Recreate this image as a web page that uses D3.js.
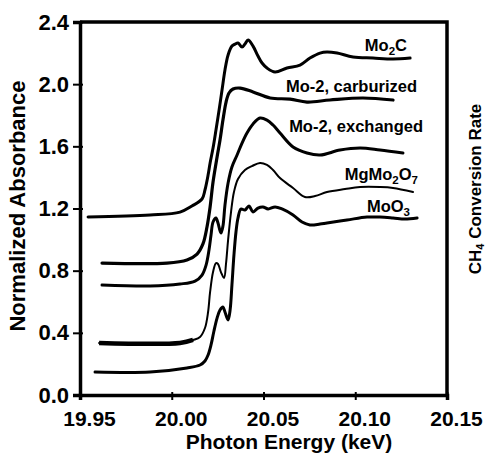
<!DOCTYPE html>
<html>
<head>
<meta charset="utf-8">
<script src="https://cdn.jsdelivr.net/npm/d3@7"></script>
<style>
  body { margin: 0; background: #fff; }
  svg { display: block; font-family: "Liberation Sans", Arial, sans-serif; font-weight: bold; }
</style>
</head>
<body>
<div id="chart"></div>
<script>
// axis ticks
const xTicks = [19.95, 20.0, 20.05, 20.1, 20.15];
const yTicks = [0, 0.4, 0.8, 1.2, 1.6, 2.0, 2.4];

// Mo2C
const mo2cE = [19.9544, 19.9882, 20.0045, 20.0110, 20.0165, 20.0181, 20.0198, 20.0209, 20.0225, 20.0241, 20.0258, 20.0274, 20.0290, 20.0307, 20.0328, 20.0345, 20.0361, 20.0383, 20.0399, 20.0416, 20.0443, 20.0470, 20.0492, 20.0519, 20.0563, 20.0628, 20.0699, 20.0753, 20.0808, 20.0846, 20.0901, 20.0988, 20.1097, 20.1206, 20.1299];
const mo2cA = [1.145, 1.158, 1.177, 1.216, 1.261, 1.319, 1.415, 1.493, 1.589, 1.705, 1.834, 1.962, 2.091, 2.188, 2.245, 2.258, 2.265, 2.239, 2.258, 2.284, 2.245, 2.181, 2.136, 2.104, 2.078, 2.104, 2.123, 2.168, 2.200, 2.207, 2.200, 2.175, 2.168, 2.162, 2.168];

// Mo-2, carburized
const carbE = [19.9620, 19.9974, 20.0083, 20.0138, 20.0170, 20.0192, 20.0209, 20.0225, 20.0247, 20.0263, 20.0279, 20.0296, 20.0312, 20.0334, 20.0372, 20.0443, 20.0536, 20.0645, 20.0737, 20.0862, 20.1042, 20.1206];
const carbA = [0.849, 0.849, 0.869, 0.907, 0.972, 1.081, 1.210, 1.370, 1.531, 1.641, 1.769, 1.885, 1.943, 1.969, 1.975, 1.950, 1.911, 1.904, 1.885, 1.898, 1.911, 1.898];

// Mo-2, exchanged
const exchE = [19.9620, 19.9882, 20.0045, 20.0127, 20.0165, 20.0187, 20.0203, 20.0214, 20.0225, 20.0241, 20.0252, 20.0268, 20.0279, 20.0290, 20.0307, 20.0328, 20.0356, 20.0383, 20.0410, 20.0443, 20.0481, 20.0519, 20.0552, 20.0590, 20.0661, 20.0737, 20.0808, 20.0917, 20.1026, 20.1135, 20.1260];
const exchA = [0.708, 0.701, 0.714, 0.733, 0.772, 0.836, 0.933, 1.029, 1.113, 1.139, 1.107, 1.042, 1.087, 1.222, 1.364, 1.467, 1.544, 1.621, 1.686, 1.744, 1.782, 1.769, 1.737, 1.686, 1.596, 1.557, 1.544, 1.576, 1.589, 1.576, 1.557];

// MgMo2O7
const mgE = [19.9604, 20.0045, 20.0116, 20.0154, 20.0181, 20.0198, 20.0209, 20.0225, 20.0241, 20.0252, 20.0268, 20.0285, 20.0296, 20.0307, 20.0323, 20.0339, 20.0361, 20.0399, 20.0437, 20.0481, 20.0519, 20.0552, 20.0590, 20.0661, 20.0726, 20.0781, 20.0846, 20.0944, 20.1026, 20.1135, 20.1206, 20.1315];
const mgA = [0.335, 0.335, 0.354, 0.373, 0.431, 0.534, 0.663, 0.791, 0.849, 0.843, 0.791, 0.753, 0.849, 0.997, 1.177, 1.306, 1.390, 1.448, 1.473, 1.493, 1.480, 1.448, 1.396, 1.332, 1.274, 1.280, 1.306, 1.325, 1.338, 1.338, 1.332, 1.306];

// MoO3
const mooE = [19.9582, 19.9882, 20.0083, 20.0154, 20.0181, 20.0198, 20.0214, 20.0230, 20.0247, 20.0263, 20.0279, 20.0290, 20.0307, 20.0318, 20.0328, 20.0339, 20.0350, 20.0361, 20.0377, 20.0399, 20.0421, 20.0443, 20.0470, 20.0497, 20.0525, 20.0563, 20.0601, 20.0661, 20.0710, 20.0753, 20.0808, 20.0846, 20.0955, 20.1064, 20.1135, 20.1206, 20.1271, 20.1337];
const mooA = [0.148, 0.148, 0.174, 0.193, 0.219, 0.257, 0.322, 0.412, 0.495, 0.547, 0.566, 0.534, 0.483, 0.547, 0.708, 0.901, 1.049, 1.139, 1.197, 1.190, 1.216, 1.177, 1.203, 1.210, 1.197, 1.210, 1.197, 1.158, 1.113, 1.094, 1.100, 1.107, 1.126, 1.145, 1.145, 1.139, 1.132, 1.139];

const W = 486, H = 457;
const margin = { top: 22, right: 39, bottom: 62, left: 80 };

const svg = d3.select("#chart").append("svg")
  .attr("width", W)
  .attr("height", H);

const x = d3.scaleLinear().domain([19.95, 20.15]).range([margin.left, W - margin.right]);
const y = d3.scaleLinear().domain([0, 2.4]).range([H - margin.bottom, margin.top]);

// x axis
const xAxis = svg.append("g")
  .attr("transform", `translate(0,${H - margin.bottom})`)
  .call(d3.axisBottom(x).tickValues(xTicks).tickFormat(d3.format(".2f")).tickSize(5).tickPadding(11));
xAxis.select(".domain").attr("stroke-width", 3.5);
xAxis.selectAll(".tick line").attr("y1", -3).attr("y2", 5).attr("stroke-width", 2);
xAxis.selectAll(".tick text")
  .attr("font-size", 21).attr("font-family", "Liberation Sans, Arial, sans-serif")
  .attr("font-weight", "bold").attr("dx", 9).attr("fill", "#000");

// y axis
const yAxis = svg.append("g")
  .attr("transform", `translate(${margin.left},0)`)
  .call(d3.axisLeft(y).tickValues(yTicks).tickFormat(d3.format(".1f")).tickSize(7).tickPadding(4));
yAxis.select(".domain").attr("stroke-width", 3.5);
yAxis.selectAll(".tick line").attr("x1", -7).attr("x2", 3).attr("stroke-width", 2);
yAxis.selectAll(".tick text")
  .attr("font-size", 22).attr("font-family", "Liberation Sans, Arial, sans-serif")
  .attr("font-weight", "bold").attr("fill", "#000");

// top and right frame
svg.append("path")
  .attr("d", `M${x(19.95)},${y(2.4)}H${x(20.15)}V${y(0)}`)
  .attr("fill", "none").attr("stroke", "#000").attr("stroke-width", 3.5);

// curves
const line = d3.line()
  .x((d) => x(d[0]))
  .y((d) => y(d[1]))
  .curve(d3.curveCatmullRom.alpha(0.5));

const series = [
  { E: mo2cE, A: mo2cA, w: 3 },
  { E: carbE, A: carbA, w: 3.2 },
  { E: exchE, A: exchA, w: 3 },
  { E: mgE, A: mgA, w: 2 },
  { E: mooE, A: mooA, w: 3 },
];

series.forEach(function (s) {
  svg.append("path")
    .datum(s.E.map((e, i) => [e, s.A[i]]))
    .attr("fill", "none")
    .attr("stroke", "#000")
    .attr("stroke-width", s.w)
    .attr("stroke-linejoin", "round")
    .attr("stroke-linecap", "round")
    .attr("d", line);
});

// heavier baseline piece of MgMo2O7
svg.append("path")
  .datum(mgE.slice(0, 3).map((e, i) => [e, mgA[i]]))
  .attr("fill", "none").attr("stroke", "#000").attr("stroke-width", 4.5)
  .attr("d", line);

// curve labels
function label(xPos, yPos, parts) {
  const t = svg.append("text")
    .attr("x", xPos).attr("y", yPos)
    .attr("text-anchor", "end")
    .attr("font-size", 16.5);
  parts.forEach(function (p) {
    const ts = t.append("tspan").text(p[0]);
    if (p[1]) ts.attr("font-size", 11.5).attr("dy", 4);
    else if (p[2]) ts.attr("dy", -4);
  });
}
label(407, 51, [["Mo"], ["2", true], ["C", false, true]]);
label(417, 92, [["Mo-2, carburized"]]);
label(423, 132, [["Mo-2, exchanged"]]);
label(418, 180, [["MgMo"], ["2", true], ["O", false, true], ["7", true]]);
label(410, 212, [["MoO"], ["3", true]]);

// axis titles
svg.append("text")
  .attr("x", 289).attr("y", 449)
  .attr("text-anchor", "middle")
  .attr("font-size", 21)
  .text("Photon Energy (keV)");

svg.append("text")
  .attr("transform", "translate(25,206) rotate(-90)")
  .attr("text-anchor", "middle")
  .attr("font-size", 22)
  .text("Normalized Absorbance");

// title of the neighbouring panel, at the right edge
const ch = svg.append("text")
  .attr("transform", "translate(481,189) rotate(-90)")
  .attr("text-anchor", "middle")
  .attr("font-size", 17);
ch.append("tspan").text("CH");
ch.append("tspan").text("4").attr("font-size", 11).attr("dy", 3);
ch.append("tspan").text(" Conversion Rate").attr("dy", -3);
</script>
</body>
</html>
